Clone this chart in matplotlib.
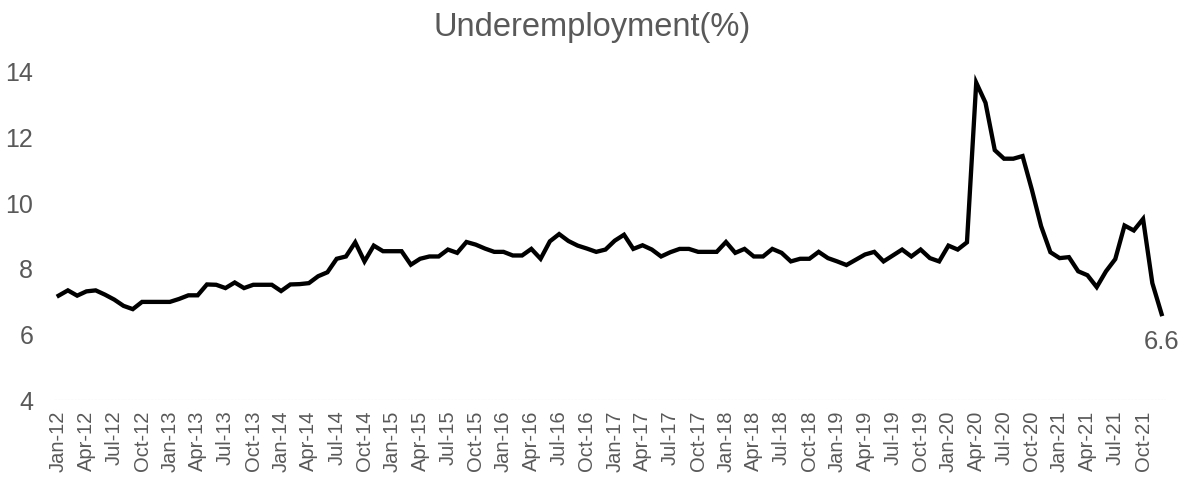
import matplotlib
matplotlib.use("Agg")
import matplotlib.pyplot as plt
import numpy as np

plt.rcParams['font.family'] = ['Liberation Sans', 'DejaVu Sans']

# Monthly labels, Jan-12 .. Dec-21
month_names = ["Jan", "Feb", "Mar", "Apr", "May", "Jun",
               "Jul", "Aug", "Sep", "Oct", "Nov", "Dec"]
years = list(range(12, 22))
months = [f"{m}-{y}" for y in years for m in month_names]

# Underemployment rate (%)
underemployment = [
    7.16, 7.32, 7.16, 7.29, 7.32, 7.19, 7.04, 6.85, 6.75, 6.97, 6.97, 6.97,   # 2012
    6.97, 7.06, 7.17, 7.17, 7.50, 7.49, 7.39, 7.56, 7.39, 7.49, 7.49, 7.49,   # 2013
    7.30, 7.50, 7.51, 7.54, 7.75, 7.87, 8.28, 8.35, 8.78, 8.20, 8.68, 8.51,   # 2014
    8.51, 8.51, 8.10, 8.28, 8.35, 8.35, 8.56, 8.46, 8.79, 8.71, 8.59, 8.49,   # 2015
    8.49, 8.38, 8.38, 8.58, 8.28, 8.81, 9.03, 8.82, 8.68, 8.59, 8.49, 8.56,   # 2016
    8.83, 9.01, 8.58, 8.69, 8.56, 8.35, 8.48, 8.58, 8.58, 8.49, 8.49, 8.49,   # 2017
    8.79, 8.46, 8.58, 8.35, 8.35, 8.58, 8.46, 8.20, 8.28, 8.28, 8.49, 8.30,   # 2018
    8.20, 8.09, 8.25, 8.41, 8.49, 8.20, 8.38, 8.56, 8.35, 8.56, 8.30, 8.20,   # 2019
    8.68, 8.56, 8.78, 13.63, 13.02, 11.58, 11.32, 11.32, 11.40, 10.38, 9.27, 8.48,  # 2020
    8.30, 8.33, 7.90, 7.78, 7.42, 7.90, 8.27, 9.29, 9.14, 9.49, 7.54, 6.60,   # 2021
]

tick_step = 3
label_color = "#595959"

fig = plt.figure(figsize=(11.84, 4.81), dpi=100)
ax = fig.add_axes([0.0456, 0.167, 0.9394, 0.6844])

x = np.arange(len(months))
ax.plot(x, underemployment, color="black", lw=3.1, solid_joinstyle="miter")

ax.set_xlim(-0.5, len(months) - 0.5)
ax.set_ylim(4, 14)
ax.set_yticks([4, 6, 8, 10, 12, 14])

ax.set_xticks(x[::tick_step])
ax.set_xticklabels(months[::tick_step], rotation=90, fontsize=14.5, color=label_color)
ax.tick_params(axis="x", length=0, pad=7)
ax.tick_params(axis="y", length=0, pad=15, labelsize=18, labelcolor=label_color)

for side in ["top", "right", "left", "bottom"]:
    ax.spines[side].set_visible(False)
ax.axhline(4, color="#c8c8c8", lw=0.8, linestyle=(0, (2, 1)), zorder=0)

# Label the final value
ax.annotate(f"{underemployment[-1]:.1f}", (x[-1], underemployment[-1]),
            xytext=(0, -11), textcoords="offset points",
            ha="center", va="top", fontsize=18.5, color=label_color)

fig.suptitle("Underemployment(%)", x=0.5, y=0.975, fontsize=23.5, color=label_color)

fig.savefig("out.png", dpi=100)
